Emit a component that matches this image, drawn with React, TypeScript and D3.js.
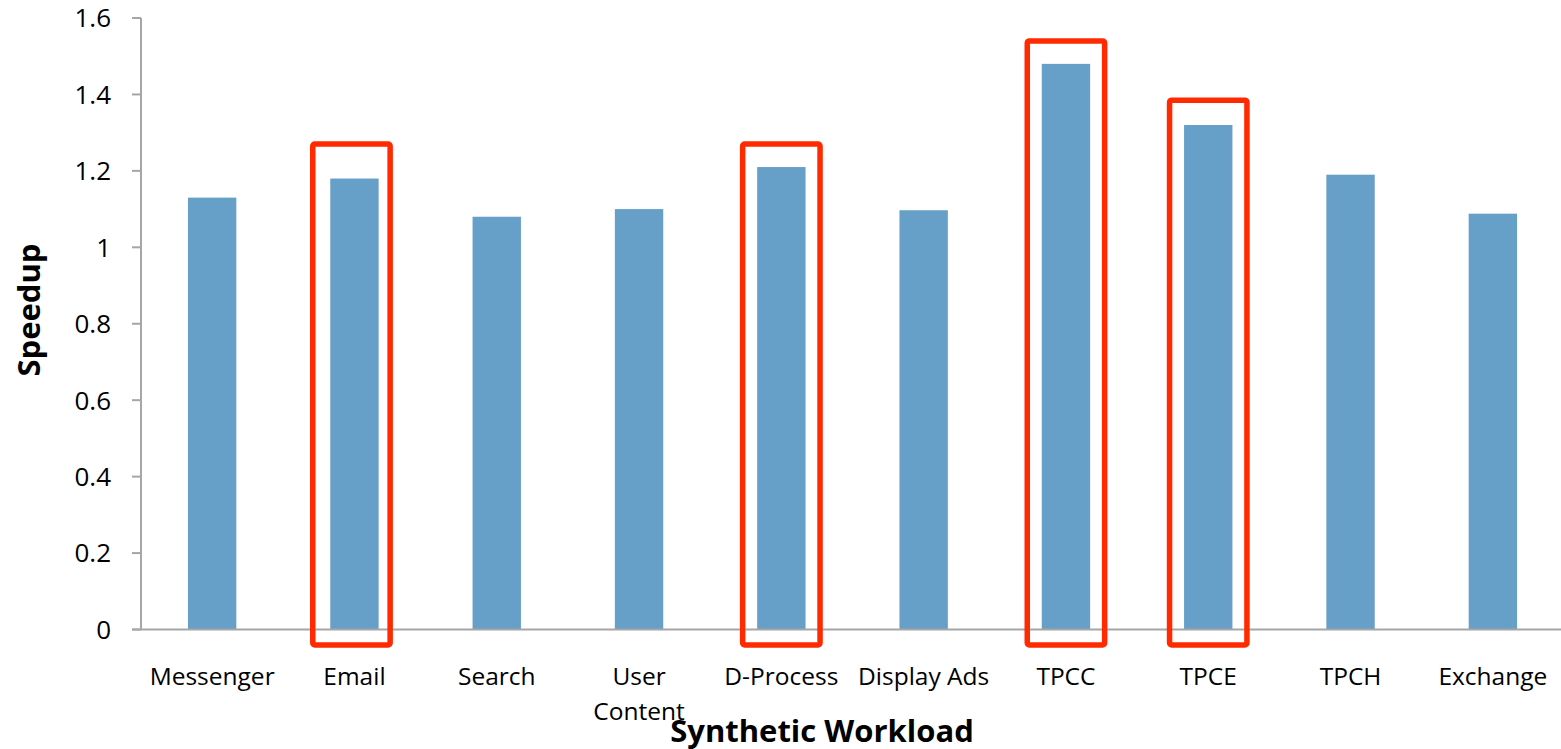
import * as d3 from 'd3';

const categories = ['Messenger', 'Email', 'Search', 'User Content', 'D-Process', 'Display Ads', 'TPCC', 'TPCE', 'TPCH', 'Exchange'];
const speedup = [1.13, 1.18, 1.08, 1.1, 1.21, 1.097, 1.48, 1.32, 1.19, 1.088];
const yTicks = [0, 0.2, 0.4, 0.6, 0.8, 1, 1.2, 1.4, 1.6];

// highlighted workloads and the top of each red frame (in speedup units)
const highlighted = ['Email', 'D-Process', 'TPCC', 'TPCE'];
const highlightTop = [1.27, 1.27, 1.54, 1.385];

const width = 1561;
const height = 749;
const font = '"Open Sans", Lato, sans-serif';

export default function App() {
  const margin = { top: 18, left: 141, bottom: 120 };
  const plotBottom = height - margin.bottom;

  const x = d3.scaleBand<string>()
    .domain(categories)
    .range([margin.left, margin.left + 1423])
    .paddingInner(0.66)
    .paddingOuter(0.33);

  const y = d3.scaleLinear()
    .domain([0, 1.6])
    .range([plotBottom + 0.5, margin.top]);

  const bw = x.bandwidth();
  const frameW = bw + 29;

  return (
    <svg width={width} height={height} style={{ position: 'absolute', left: 0, top: 0, background: '#fff' }}>
      {/* bars */}
      {categories.map((c, i) => (
        <rect key={c} x={x(c)} y={y(speedup[i])} width={bw} height={y(0) - y(speedup[i])} fill="#669fc7" />
      ))}

      {/* y axis */}
      <line x1={margin.left} x2={margin.left} y1={y(1.6)} y2={y(0)} stroke="#a6a6a6" strokeWidth={2} />
      {yTicks.map(t => (
        <g key={t}>
          <line x1={margin.left - 9} x2={margin.left} y1={y(t)} y2={y(t)} stroke="#a6a6a6" strokeWidth={2} />
          <text x={111} y={y(t)} dy="0.36em" textAnchor="end" fontFamily={font} fontSize={26} fill="#000">
            {d3.format('')(t)}
          </text>
        </g>
      ))}

      {/* x axis */}
      <line x1={margin.left - 9} x2={width} y1={y(0)} y2={y(0)} stroke="#a6a6a6" strokeWidth={2} />

      {/* category labels */}
      {categories.map(c => {
        const cx = (x(c) || 0) + bw / 2;
        const words = c === 'User Content' ? ['User', 'Content'] : [c];
        return (
          <text key={c} x={cx} y={685} textAnchor="middle" fontFamily={font} fontSize={24.5} fill="#000">
            {words.map((w, j) => (
              <tspan key={w} x={cx} dy={j === 0 ? 0 : 35}>{w}</tspan>
            ))}
          </text>
        );
      })}

      {/* red highlight frames */}
      {highlighted.map((c, i) => {
        const cx = (x(c) || 0) + bw / 2 - (c === 'Email' ? 3 : 0);
        const top = y(highlightTop[i]);
        return (
          <rect key={c} x={cx - frameW / 2} y={top} width={frameW} height={645 - top}
            fill="none" stroke="#ff2a00" strokeWidth={5.5} rx={2} />
        );
      })}

      {/* axis titles */}
      <text x={822} y={742} textAnchor="middle" fontFamily={font} fontWeight="bold" fontSize={31} fill="#000">
        Synthetic Workload
      </text>
      <text transform="translate(40,310) rotate(-90)" textAnchor="middle"
        fontFamily={font} fontWeight="bold" fontSize={31} fill="#000">
        Speedup
      </text>
    </svg>
  );
}
